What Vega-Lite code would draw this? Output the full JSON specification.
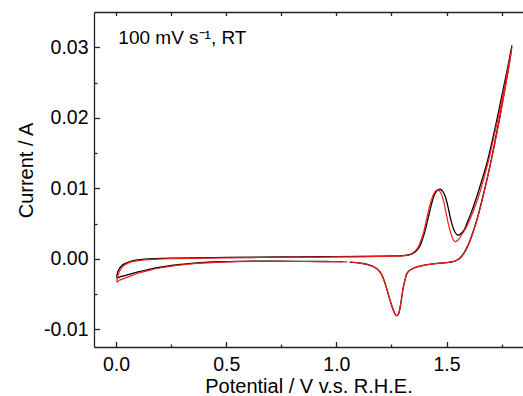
{
  "$schema": "https://vega.github.io/schema/vega-lite/v6.json",
  "width": 429,
  "height": 335,
  "autosize": {"type": "none"},
  "padding": {"left": 94, "top": 12, "right": 0, "bottom": 49},
  "background": "white",
  "config": {
    "view": {"stroke": null},
    "axis": {
      "grid": false,
      "labelFont": "Liberation Sans",
      "titleFont": "Liberation Sans",
      "labelFontSize": 19.5,
      "titleFontSize": 20,
      "labelColor": "#000",
      "titleColor": "#000",
      "titleFontWeight": "normal",
      "domainColor": "#222",
      "domainWidth": 1.3,
      "tickColor": "#222",
      "tickWidth": 1.3
    }
  },
  "datasets": {
    "black": [
      {"i": 1, "x": 1.03, "y": -0.00040}, {"i": 2, "x": 0.95, "y": -0.00038}, {"i": 3, "x": 0.85, "y": -0.00036},
      {"i": 4, "x": 0.75, "y": -0.00034}, {"i": 5, "x": 0.65, "y": -0.00033}, {"i": 6, "x": 0.55, "y": -0.00036},
      {"i": 7, "x": 0.48, "y": -0.00041}, {"i": 8, "x": 0.40, "y": -0.00052}, {"i": 9, "x": 0.33, "y": -0.00068},
      {"i": 10, "x": 0.26, "y": -0.00090}, {"i": 11, "x": 0.20, "y": -0.00118}, {"i": 12, "x": 0.15, "y": -0.00148},
      {"i": 13, "x": 0.10, "y": -0.00185}, {"i": 14, "x": 0.064, "y": -0.00215}, {"i": 15, "x": 0.035, "y": -0.00240},
      {"i": 16, "x": 0.015, "y": -0.00258}, {"i": 17, "x": 0.005, "y": -0.00272},
      {"i": 18, "x": 0.004, "y": -0.00240}, {"i": 19, "x": 0.006, "y": -0.00205}, {"i": 20, "x": 0.010, "y": -0.00170},
      {"i": 21, "x": 0.016, "y": -0.00135}, {"i": 22, "x": 0.024, "y": -0.00105}, {"i": 23, "x": 0.034, "y": -0.00078},
      {"i": 24, "x": 0.048, "y": -0.00055}, {"i": 25, "x": 0.066, "y": -0.00035}, {"i": 26, "x": 0.09, "y": -0.00018},
      {"i": 27, "x": 0.13, "y": -0.00004}, {"i": 28, "x": 0.18, "y": 0.00004}, {"i": 29, "x": 0.25, "y": 0.00010},
      {"i": 30, "x": 0.35, "y": 0.00015}, {"i": 31, "x": 0.5, "y": 0.00020}, {"i": 32, "x": 0.65, "y": 0.00024},
      {"i": 33, "x": 0.8, "y": 0.00027}, {"i": 34, "x": 0.95, "y": 0.00030}, {"i": 35, "x": 1.1, "y": 0.00033},
      {"i": 36, "x": 1.2, "y": 0.00037}, {"i": 37, "x": 1.27, "y": 0.00042}, {"i": 38, "x": 1.30, "y": 0.00046},
      {"i": 39, "x": 1.33, "y": 0.00058}, {"i": 40, "x": 1.349, "y": 0.0008}, {"i": 41, "x": 1.365, "y": 0.0012},
      {"i": 42, "x": 1.38, "y": 0.0019}, {"i": 43, "x": 1.392, "y": 0.0029}, {"i": 44, "x": 1.403, "y": 0.0040},
      {"i": 45, "x": 1.418, "y": 0.0060}, {"i": 46, "x": 1.433, "y": 0.0079}, {"i": 47, "x": 1.445, "y": 0.0091},
      {"i": 48, "x": 1.458, "y": 0.0097}, {"i": 49, "x": 1.471, "y": 0.00987}, {"i": 50, "x": 1.482, "y": 0.0096},
      {"i": 51, "x": 1.492, "y": 0.0090}, {"i": 52, "x": 1.501, "y": 0.0081}, {"i": 53, "x": 1.509, "y": 0.0070},
      {"i": 54, "x": 1.516, "y": 0.0060}, {"i": 55, "x": 1.524, "y": 0.0050}, {"i": 56, "x": 1.531, "y": 0.0043},
      {"i": 57, "x": 1.54, "y": 0.0037}, {"i": 58, "x": 1.549, "y": 0.0034}, {"i": 59, "x": 1.558, "y": 0.0034},
      {"i": 60, "x": 1.57, "y": 0.0037}, {"i": 61, "x": 1.58, "y": 0.0041}, {"i": 62, "x": 1.592, "y": 0.0050},
      {"i": 63, "x": 1.615, "y": 0.0068}, {"i": 64, "x": 1.637, "y": 0.0088}, {"i": 65, "x": 1.66, "y": 0.0111},
      {"i": 66, "x": 1.683, "y": 0.01355}, {"i": 67, "x": 1.71, "y": 0.0171}, {"i": 68, "x": 1.735, "y": 0.0207},
      {"i": 69, "x": 1.76, "y": 0.0245}, {"i": 70, "x": 1.78, "y": 0.0275}, {"i": 71, "x": 1.797, "y": 0.0303},
      {"i": 72, "x": 1.785, "y": 0.0278}, {"i": 73, "x": 1.765, "y": 0.0242}, {"i": 74, "x": 1.745, "y": 0.0207},
      {"i": 75, "x": 1.722, "y": 0.0170}, {"i": 76, "x": 1.70, "y": 0.0136}, {"i": 77, "x": 1.68, "y": 0.0108},
      {"i": 78, "x": 1.66, "y": 0.0082}, {"i": 79, "x": 1.64, "y": 0.0058}, {"i": 80, "x": 1.62, "y": 0.0038},
      {"i": 81, "x": 1.60, "y": 0.0021}, {"i": 82, "x": 1.58, "y": 0.0009}, {"i": 83, "x": 1.56, "y": 0.0001},
      {"i": 84, "x": 1.54, "y": -0.0003}, {"i": 85, "x": 1.51, "y": -0.0005}, {"i": 86, "x": 1.47, "y": -0.0006},
      {"i": 87, "x": 1.43, "y": -0.00075}, {"i": 88, "x": 1.40, "y": -0.0009}, {"i": 89, "x": 1.37, "y": -0.0011},
      {"i": 90, "x": 1.345, "y": -0.0014}, {"i": 91, "x": 1.33, "y": -0.0017}, {"i": 92, "x": 1.32, "y": -0.0021},
      {"i": 93, "x": 1.312, "y": -0.0029}, {"i": 94, "x": 1.303, "y": -0.0042}, {"i": 95, "x": 1.295, "y": -0.0058},
      {"i": 96, "x": 1.288, "y": -0.0071}, {"i": 97, "x": 1.282, "y": -0.0078}, {"i": 98, "x": 1.275, "y": -0.00805},
      {"i": 99, "x": 1.268, "y": -0.0079}, {"i": 100, "x": 1.26, "y": -0.0074}, {"i": 101, "x": 1.25, "y": -0.0065},
      {"i": 102, "x": 1.24, "y": -0.0055}, {"i": 103, "x": 1.229, "y": -0.0043}, {"i": 104, "x": 1.217, "y": -0.0031},
      {"i": 105, "x": 1.203, "y": -0.0021}, {"i": 106, "x": 1.187, "y": -0.00148}, {"i": 107, "x": 1.168, "y": -0.0011},
      {"i": 108, "x": 1.15, "y": -0.00088}, {"i": 109, "x": 1.12, "y": -0.00066}, {"i": 110, "x": 1.09, "y": -0.00053},
      {"i": 111, "x": 1.06, "y": -0.00046}
    ],
    "red": [
      {"i": 1, "x": 1.05, "y": -0.00042}, {"i": 2, "x": 0.95, "y": -0.00040}, {"i": 3, "x": 0.85, "y": -0.00038},
      {"i": 4, "x": 0.75, "y": -0.00036}, {"i": 5, "x": 0.65, "y": -0.00036}, {"i": 6, "x": 0.55, "y": -0.00040},
      {"i": 7, "x": 0.48, "y": -0.00046}, {"i": 8, "x": 0.40, "y": -0.00058}, {"i": 9, "x": 0.33, "y": -0.00076},
      {"i": 10, "x": 0.26, "y": -0.00100}, {"i": 11, "x": 0.20, "y": -0.00130}, {"i": 12, "x": 0.15, "y": -0.00163},
      {"i": 13, "x": 0.10, "y": -0.00205}, {"i": 14, "x": 0.064, "y": -0.00245}, {"i": 15, "x": 0.035, "y": -0.00280},
      {"i": 16, "x": 0.015, "y": -0.00305}, {"i": 17, "x": 0.005, "y": -0.00330},
      {"i": 18, "x": 0.004, "y": -0.00300}, {"i": 19, "x": 0.007, "y": -0.00260}, {"i": 20, "x": 0.011, "y": -0.00215},
      {"i": 21, "x": 0.018, "y": -0.00165}, {"i": 22, "x": 0.027, "y": -0.00122}, {"i": 23, "x": 0.040, "y": -0.00085},
      {"i": 24, "x": 0.056, "y": -0.00057}, {"i": 25, "x": 0.078, "y": -0.00036}, {"i": 26, "x": 0.10, "y": -0.00024},
      {"i": 27, "x": 0.14, "y": -0.00011}, {"i": 28, "x": 0.19, "y": -0.00003}, {"i": 29, "x": 0.25, "y": 0.00002},
      {"i": 30, "x": 0.35, "y": 0.00008}, {"i": 31, "x": 0.5, "y": 0.00014}, {"i": 32, "x": 0.65, "y": 0.00019},
      {"i": 33, "x": 0.8, "y": 0.00023}, {"i": 34, "x": 0.95, "y": 0.00026}, {"i": 35, "x": 1.1, "y": 0.00030},
      {"i": 36, "x": 1.2, "y": 0.00034}, {"i": 37, "x": 1.27, "y": 0.00039}, {"i": 38, "x": 1.30, "y": 0.00043},
      {"i": 39, "x": 1.33, "y": 0.00054}, {"i": 40, "x": 1.345, "y": 0.0008}, {"i": 41, "x": 1.36, "y": 0.0012},
      {"i": 42, "x": 1.375, "y": 0.0019}, {"i": 43, "x": 1.387, "y": 0.0029}, {"i": 44, "x": 1.398, "y": 0.0040},
      {"i": 45, "x": 1.412, "y": 0.0060}, {"i": 46, "x": 1.427, "y": 0.0079}, {"i": 47, "x": 1.44, "y": 0.0091},
      {"i": 48, "x": 1.452, "y": 0.0097}, {"i": 49, "x": 1.463, "y": 0.00977}, {"i": 50, "x": 1.473, "y": 0.0094},
      {"i": 51, "x": 1.481, "y": 0.0088}, {"i": 52, "x": 1.488, "y": 0.0080}, {"i": 53, "x": 1.495, "y": 0.0069},
      {"i": 54, "x": 1.502, "y": 0.0059}, {"i": 55, "x": 1.508, "y": 0.0050}, {"i": 56, "x": 1.516, "y": 0.0040},
      {"i": 57, "x": 1.524, "y": 0.0032}, {"i": 58, "x": 1.531, "y": 0.0027}, {"i": 59, "x": 1.539, "y": 0.00245},
      {"i": 60, "x": 1.55, "y": 0.0026}, {"i": 61, "x": 1.56, "y": 0.0030}, {"i": 62, "x": 1.575, "y": 0.0037},
      {"i": 63, "x": 1.59, "y": 0.0045}, {"i": 64, "x": 1.605, "y": 0.0055}, {"i": 65, "x": 1.627, "y": 0.0072},
      {"i": 66, "x": 1.649, "y": 0.0092}, {"i": 67, "x": 1.672, "y": 0.0117}, {"i": 68, "x": 1.695, "y": 0.0145},
      {"i": 69, "x": 1.72, "y": 0.0180}, {"i": 70, "x": 1.745, "y": 0.0215}, {"i": 71, "x": 1.77, "y": 0.0255},
      {"i": 72, "x": 1.797, "y": 0.0300},
      {"i": 73, "x": 1.785, "y": 0.0276}, {"i": 74, "x": 1.765, "y": 0.0240}, {"i": 75, "x": 1.745, "y": 0.0205},
      {"i": 76, "x": 1.722, "y": 0.0168}, {"i": 77, "x": 1.70, "y": 0.0135}, {"i": 78, "x": 1.68, "y": 0.0107},
      {"i": 79, "x": 1.66, "y": 0.0081}, {"i": 80, "x": 1.64, "y": 0.0057}, {"i": 81, "x": 1.62, "y": 0.0037},
      {"i": 82, "x": 1.60, "y": 0.0020}, {"i": 83, "x": 1.58, "y": 0.0008}, {"i": 84, "x": 1.56, "y": 0.0000},
      {"i": 85, "x": 1.54, "y": -0.0003}, {"i": 86, "x": 1.51, "y": -0.0005}, {"i": 87, "x": 1.47, "y": -0.0006},
      {"i": 88, "x": 1.43, "y": -0.00075}, {"i": 89, "x": 1.40, "y": -0.0009}, {"i": 90, "x": 1.37, "y": -0.0011},
      {"i": 91, "x": 1.345, "y": -0.0014}, {"i": 92, "x": 1.33, "y": -0.0017}, {"i": 93, "x": 1.32, "y": -0.0021},
      {"i": 94, "x": 1.312, "y": -0.0029}, {"i": 95, "x": 1.303, "y": -0.0042}, {"i": 96, "x": 1.295, "y": -0.0058},
      {"i": 97, "x": 1.288, "y": -0.0071}, {"i": 98, "x": 1.282, "y": -0.0078}, {"i": 99, "x": 1.275, "y": -0.00808},
      {"i": 100, "x": 1.268, "y": -0.0079}, {"i": 101, "x": 1.26, "y": -0.0074}, {"i": 102, "x": 1.25, "y": -0.0065},
      {"i": 103, "x": 1.24, "y": -0.0055}, {"i": 104, "x": 1.229, "y": -0.0043}, {"i": 105, "x": 1.217, "y": -0.0031},
      {"i": 106, "x": 1.203, "y": -0.0021}, {"i": 107, "x": 1.187, "y": -0.00148}, {"i": 108, "x": 1.168, "y": -0.0011},
      {"i": 109, "x": 1.15, "y": -0.00088}, {"i": 110, "x": 1.12, "y": -0.00066}, {"i": 111, "x": 1.09, "y": -0.00053},
      {"i": 112, "x": 1.07, "y": -0.00048}
    ],
    "note": [{"label": "100 mV s⁻¹, RT"}]
  },
  "resolve": {"axis": {"x": "independent", "y": "independent"}},
  "layer": [
    {
      "data": {"name": "black"},
      "mark": {"type": "line", "color": "#000000", "strokeWidth": 1.3, "interpolate": "catmull-rom"},
      "encoding": {
        "order": {"field": "i", "type": "quantitative"},
        "x": {
          "field": "x", "type": "quantitative",
          "scale": {"domain": [-0.1, 1.847], "nice": false, "zero": false},
          "axis": {
            "orient": "bottom", "values": [0, 0.5, 1, 1.5], "format": ".1f",
            "tickSize": -5.5, "labelPadding": 14, "labelBaseline": "top",
            "title": "Potential / V v.s. R.H.E.", "titleX": 214.5, "titleY": 45.5, "titleBaseline": "alphabetic"
          }
        },
        "y": {
          "field": "y", "type": "quantitative",
          "scale": {"domain": [-0.0125, 0.035], "nice": false, "zero": false},
          "axis": {
            "orient": "left", "values": [-0.01, 0, 0.01, 0.02, 0.03],
            "labelExpr": "datum.value < 0 ? '-' + format(abs(datum.value), '.2f') : format(datum.value, '.2f')",
            "tickSize": -5.5, "labelPadding": 11.5,
            "title": "Current / A", "titleX": -62, "titleY": 158, "titleBaseline": "alphabetic", "titleAngle": -90
          }
        }
      }
    },
    {
      "data": {"name": "red"},
      "mark": {"type": "line", "color": "#f21c1c", "strokeWidth": 1.2, "interpolate": "catmull-rom"},
      "encoding": {
        "order": {"field": "i", "type": "quantitative"},
        "x": {
          "field": "x", "type": "quantitative",
          "scale": {"domain": [-0.1, 1.847], "nice": false, "zero": false},
          "axis": {"orient": "bottom", "values": [0.25, 0.75, 1.25, 1.75], "labels": false, "domain": false, "tickSize": -3, "title": null}
        },
        "y": {
          "field": "y", "type": "quantitative",
          "scale": {"domain": [-0.0125, 0.035], "nice": false, "zero": false},
          "axis": {"orient": "left", "values": [-0.005, 0.005, 0.015, 0.025], "labels": false, "domain": false, "tickSize": -3, "title": null}
        }
      }
    },
    {
      "data": {"name": "note"},
      "mark": {"type": "text", "align": "left", "baseline": "alphabetic", "font": "Liberation Sans", "fontSize": 19, "color": "#000"},
      "encoding": {
        "text": {"field": "label", "type": "nominal"},
        "x": {
          "datum": 0.0105, "type": "quantitative",
          "scale": {"domain": [-0.1, 1.847], "nice": false, "zero": false},
          "axis": {"orient": "top", "values": [0, 0.25, 0.5, 0.75, 1, 1.25, 1.5, 1.75], "labels": false, "tickSize": -3.5, "title": null}
        },
        "y": {
          "datum": 0.0305, "type": "quantitative",
          "scale": {"domain": [-0.0125, 0.035], "nice": false, "zero": false},
          "axis": null
        }
      }
    }
  ]
}
